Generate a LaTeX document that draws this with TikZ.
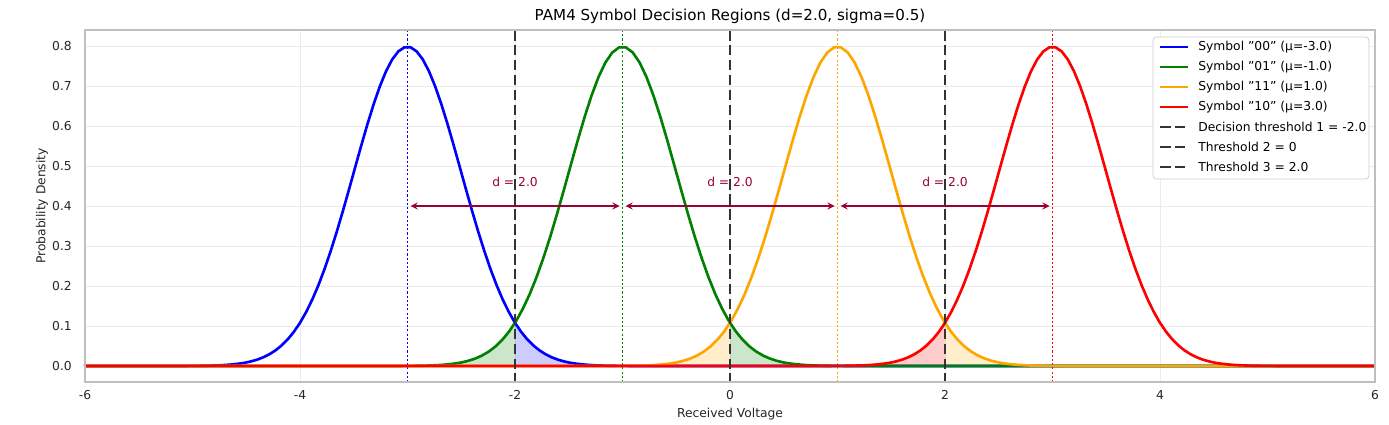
\documentclass[tikz,border=0pt]{standalone}
\usepackage{fontspec}
\setmainfont{DejaVu Sans}
\usetikzlibrary{positioning}
\definecolor{mplorange}{HTML}{FFA500}
\definecolor{mplgreen}{HTML}{008000}
\definecolor{mplblue}{HTML}{0000FF}
\definecolor{gridgrey}{HTML}{EBEBEB}
\definecolor{threshgrey}{HTML}{333333}
\tikzset{
  curve/.style={line width=1.5pt},
  muline/.style={dash pattern=on 1.2pt off 1.2pt, line width=0.8pt},
  thresh/.style={threshgrey, line width=1.5pt, dash pattern=on 6pt off 2.5pt},
  darrow/.style={<->, >=stealth, purple!80!black, line width=0.8pt},
  ticklbl/.style={font=\fontsize{7}{8}\selectfont, text=black!85},
  legtxt/.style={font=\fontsize{7}{8}\selectfont, anchor=west, inner sep=0pt},
}
% data x -> px, pdf -> px
\newcommand{\px}[1]{730+107.5*(#1)}
\newcommand{\gauss}[2]{366-400*0.7979*exp(-2*((#1)-(#2))^2)}
\newcommand{\qt}{\symbol{34}}
\begin{document}
\begin{tikzpicture}[x=0.02cm,y=-0.02cm]
\useasboundingbox (0,0) rectangle (1389,425);
% grid
\foreach \t in {-6,-4,...,6} \draw[gridgrey] ({\px{\t}},30) -- ({\px{\t}},382);
\foreach \v in {0,1,...,8} \draw[gridgrey] (85,{366-40*\v}) -- (1375,{366-40*\v});
% tail areas
\fill[mplblue,opacity=0.2] ({\px{-2}},366) -- plot[domain=-2:-0.8,samples=40] ({\px{\x}},{\gauss{\x}{-3}}) -- ({\px{-0.8}},366) -- cycle;
\fill[mplgreen,opacity=0.2] ({\px{-4.2}},366) -- plot[domain=-4.2:-2,samples=40] ({\px{\x}},{\gauss{\x}{-1}}) -- ({\px{-2}},366) -- cycle;
\fill[mplgreen,opacity=0.2] ({\px{0}},366) -- plot[domain=0:1.2,samples=40] ({\px{\x}},{\gauss{\x}{-1}}) -- ({\px{1.2}},366) -- cycle;
\fill[mplorange,opacity=0.2] ({\px{-1.2}},366) -- plot[domain=-1.2:0,samples=40] ({\px{\x}},{\gauss{\x}{1}}) -- ({\px{0}},366) -- cycle;
\fill[mplorange,opacity=0.2] ({\px{2}},366) -- plot[domain=2:3.2,samples=40] ({\px{\x}},{\gauss{\x}{1}}) -- ({\px{3.2}},366) -- cycle;
\fill[red,opacity=0.2] ({\px{0.8}},366) -- plot[domain=0.8:2,samples=40] ({\px{\x}},{\gauss{\x}{3}}) -- ({\px{2}},366) -- cycle;
% mean lines
\foreach \m/\c in {-3/mplblue,-1/mplgreen,1/mplorange,3/red}
  \draw[muline,draw=\c] ({\px{\m}},30) -- ({\px{\m}},382);
% curves
\foreach \m/\c in {-3/mplblue,-1/mplgreen,1/mplorange,3/red} {
  \pgfmathsetmacro{\lo}{max(\m-3.8,-6)}
  \pgfmathsetmacro{\hi}{min(\m+3.8,6)}
  \draw[curve,\c] (85,366) -- plot[domain=\lo:\hi,samples=120] ({\px{\x}},{\gauss{\x}{\m}}) -- (1375,366);
}
% thresholds
\foreach \t in {-2,0,2} \draw[thresh] ({\px{\t}},30) -- ({\px{\t}},382);
% distance arrows
\foreach \a/\b [count=\i] in {-3/-1,-1/1,1/3} {
  \coordinate (dl\i) at ({\px{\a}+3},206);
  \coordinate (dr\i) at ({\px{\b}-3},206);
  \draw[darrow] (dl\i) -- (dr\i);
  \node[ticklbl, text=purple!80!black] (dlbl\i) at ({\px{(\a+\b)/2}},182) {d = 2.0};
}
% axes frame
\draw[black!25, line width=0.6pt] (85,30) rectangle (1375,382);
\foreach \t in {-6,-4,...,6} \node[ticklbl, anchor=center] (xt\t) at ({\px{\t}},395) {\t};
\foreach \v in {0,1,...,8} \node[ticklbl, anchor=east] (yt\v) at (78,{366-40*\v}) {0.\v};
\node[ticklbl] (xlab) at (730,414) {Received Voltage};
\node[ticklbl, rotate=90] (ylab) at (42,206) {Probability Density};
\node[font=\fontsize{8.6}{10}\selectfont] (title) at (730,16) {PAM4 Symbol Decision Regions (d=2.0, sigma=0.5)};
% legend
\draw[black!20, fill=white, rounded corners=2pt] (1153,37) rectangle (1369,179);
\foreach \c/\s [count=\i] in {mplblue/{Symbol \qt00\qt{} (μ=-3.0)},mplgreen/{Symbol \qt01\qt{} (μ=-1.0)},mplorange/{Symbol \qt11\qt{} (μ=1.0)},red/{Symbol \qt10\qt{} (μ=3.0)}} {
  \draw[curve,\c] (1160,{47+20*(\i-1)}) -- (1188,{47+20*(\i-1)});
  \node[legtxt] (leg\i) at (1198,{47+20*(\i-1)}) {\s};
}
\foreach \s [count=\i from 5] in {Decision threshold 1 = -2.0,Threshold 2 = 0,Threshold 3 = 2.0} {
  \draw[thresh] (1160,{47+20*(\i-1)}) -- (1188,{47+20*(\i-1)});
  \node[legtxt] (leg\i) at (1198,{47+20*(\i-1)}) {\s};
}
\end{tikzpicture}
\end{document}
